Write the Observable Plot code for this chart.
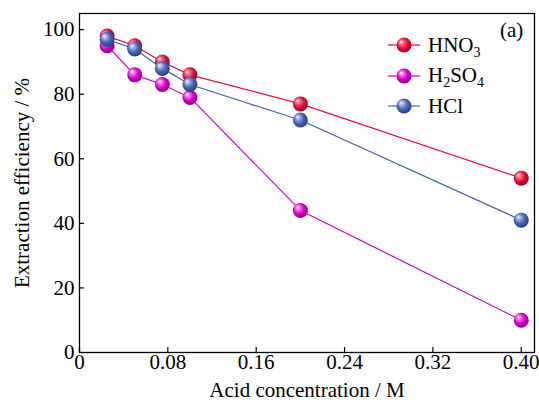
<!DOCTYPE html>
<html>
<head>
<meta charset="utf-8">
<script src="https://cdn.jsdelivr.net/npm/d3@7"></script>
<script src="https://cdn.jsdelivr.net/npm/@observablehq/plot@0.6"></script>
<style>
  html, body { margin: 0; padding: 0; background: #fff; }
  #wrap { position: relative; width: 539px; height: 405px; font-family: "Liberation Serif", "Times New Roman", serif; }
  #legend { position: absolute; left: 388px; top: 30px; font-size: 21px; color: #000; }
  #legend .row { display: flex; align-items: center; height: 30.5px; }
  #legend svg { margin-right: 8px; }
  #legend sub { font-size: 14px; vertical-align: -5px; line-height: 0; }
  #tag { position: absolute; left: 500px; top: 18px; font-size: 21px; }
</style>
</head>
<body>
<div id="wrap">
  <div id="chart"></div>
  <div id="legend"></div>
  <div id="tag">(a)</div>
</div>
<script>
// Acid concentration (M) and extraction efficiency (%) for each acid
const concentration = [0.025, 0.05, 0.075, 0.1, 0.2, 0.4];
const hno3 = [98, 95, 90, 86, 77, 54];
const h2so4 = [95, 86, 83, 79, 44, 10];
const hcl = [97, 94, 88, 83, 72, 41];

const xTicks = [0, 0.08, 0.16, 0.24, 0.32, 0.40];
const xTickLabels = ["0", "0.08", "0.16", "0.24", "0.32", "0.40"];
const yTicks = [0, 20, 40, 60, 80, 100];

const series = [
  {key: "hno3", name: "HNO<sub>3</sub>", values: hno3, color: "#e5103c", light: "#ff8098", dark: "#8a0020"},
  {key: "h2so4", name: "H<sub>2</sub>SO<sub>4</sub>", values: h2so4, color: "#d800c8", light: "#ff85f2", dark: "#80007a"},
  {key: "hcl", name: "HCl", values: hcl, color: "#4a63b0", light: "#aabaee", dark: "#243a78"}
];

const rows = series.map(s => s.values.map((v, i) => ({c: concentration[i], e: v})));

const W = 539, H = 405;
const M = {left: 79, right: 5, top: 13, bottom: 53};
const tickLen = 5;

const marks = [Plot.frame({stroke: "#000", strokeWidth: 1.3})];
series.forEach((s, k) => {
  marks.push(Plot.line(rows[k], {x: "c", y: "e", stroke: s.color, strokeWidth: 1.2}));
});
series.forEach((s, k) => {
  marks.push(Plot.dot(rows[k], {x: "c", y: "e", r: 7.5, fill: `url(#ball-${s.key})`, stroke: "none"}));
});
marks.push(
  // inward tick marks along the bottom and left edges
  Plot.tickX(xTicks, {x: d => d, stroke: "#000", strokeWidth: 1.2, insetTop: H - M.top - M.bottom - tickLen}),
  Plot.tickY(yTicks, {y: d => d, stroke: "#000", strokeWidth: 1.2, insetRight: W - M.left - M.right - tickLen}),
  Plot.axisX(xTicks, {tickSize: 0, tickPadding: 2, tickFormat: (d, i) => xTickLabels[i], fontSize: 21, label: null}),
  Plot.axisY(yTicks, {tickSize: 0, tickPadding: 5, fontSize: 21, label: null}),
  Plot.text(["Acid concentration / M"], {frameAnchor: "bottom", dy: 44, fontSize: 21}),
  Plot.text(["Extraction efficiency / %"], {frameAnchor: "left", textAnchor: "middle", dx: -57, rotate: -90, fontSize: 21})
);

const chart = Plot.plot({
  width: W,
  height: H,
  marginLeft: M.left,
  marginRight: M.right,
  marginTop: M.top,
  marginBottom: M.bottom,
  style: {fontFamily: "Liberation Serif, Times New Roman, serif", fontSize: "21px", color: "#000", background: "#fff"},
  x: {domain: [0, 0.412], label: null},
  y: {domain: [0, 105], label: null},
  marks
});

// Sphere shading for the markers
const defs = d3.select(chart).insert("defs", ":first-child");
series.forEach(s => {
  const g = defs.append("radialGradient")
    .attr("id", `ball-${s.key}`)
    .attr("cx", "0.45").attr("cy", "0.45").attr("r", "0.6")
    .attr("fx", "0.3").attr("fy", "0.28");
  g.append("stop").attr("offset", "0%").attr("stop-color", "#ffffff");
  g.append("stop").attr("offset", "20%").attr("stop-color", s.light);
  g.append("stop").attr("offset", "58%").attr("stop-color", s.color);
  g.append("stop").attr("offset", "100%").attr("stop-color", s.dark);
});

document.getElementById("chart").appendChild(chart);

// Legend: line with sphere marker, then the acid name
const legend = d3.select("#legend");
series.forEach(s => {
  const row = legend.append("div").attr("class", "row");
  const svg = row.append("svg").attr("width", 32).attr("height", 18);
  svg.append("line").attr("x1", 0).attr("x2", 32).attr("y1", 9).attr("y2", 9)
    .attr("stroke", s.color).attr("stroke-width", 1.2);
  svg.append("circle").attr("cx", 16).attr("cy", 9).attr("r", 7.5)
    .attr("fill", `url(#ball-${s.key})`);
  row.append("span").html(s.name);
});
</script>
</body>
</html>
